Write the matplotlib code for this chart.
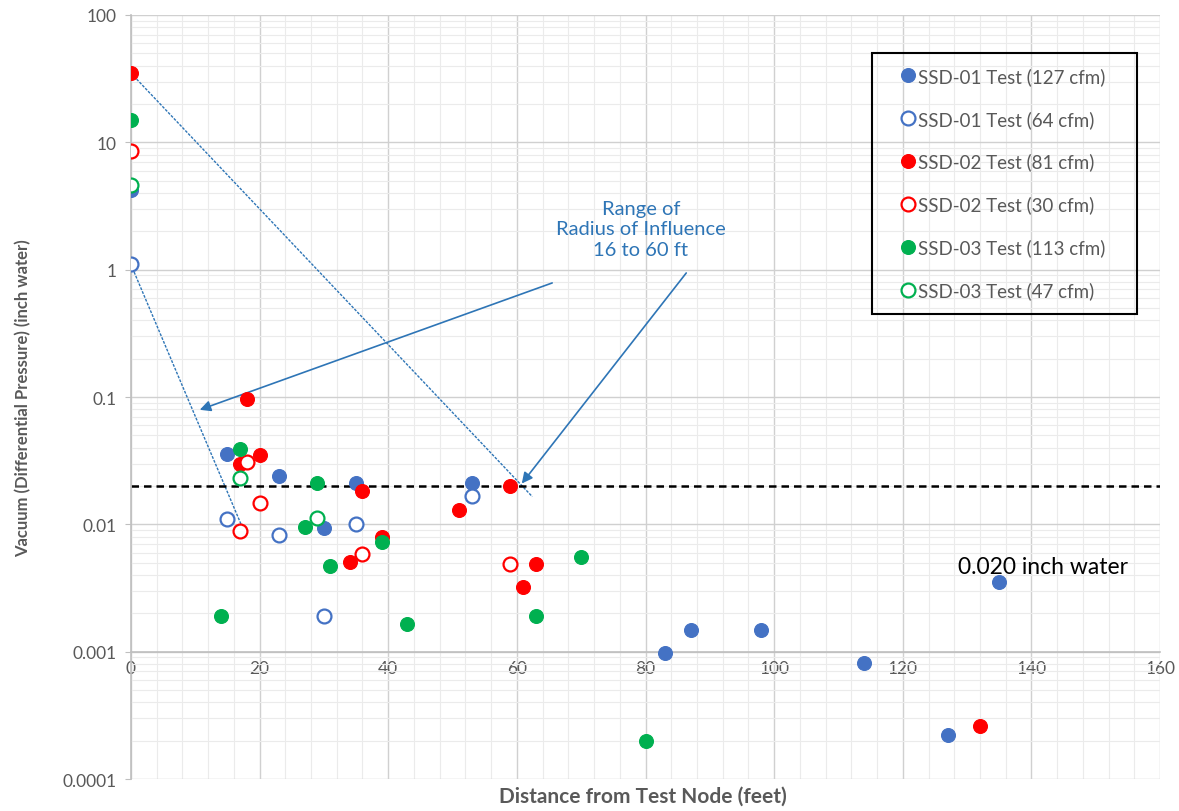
import matplotlib
matplotlib.use("Agg")
import matplotlib.pyplot as plt
from matplotlib import ticker
from matplotlib.patches import Rectangle

plt.rcParams['font.family'] = ['Lato', 'DejaVu Sans']

# measured vacuum (inch water) vs distance from test node (feet)
ssd01_127_x = [0, 15, 23, 30, 35, 53, 83, 87, 98, 114, 127, 135]
ssd01_127_y = [4.2, 0.036, 0.024, 0.0093, 0.021, 0.021, 0.00098, 0.00147, 0.00147, 0.00082, 0.00022, 0.0035]

ssd01_64_x = [0, 15, 23, 30, 35, 53]
ssd01_64_y = [1.1, 0.011, 0.0082, 0.0019, 0.0101, 0.0168]

ssd02_81_x = [0, 18, 17, 20, 36, 39, 34, 51, 59, 63, 61, 132]
ssd02_81_y = [35, 0.097, 0.030, 0.035, 0.0184, 0.0080, 0.0051, 0.013, 0.020, 0.0049, 0.0032, 0.00026]

ssd02_30_x = [0, 18, 20, 17, 36, 59]
ssd02_30_y = [8.5, 0.031, 0.0148, 0.0088, 0.0058, 0.0049]

ssd03_113_x = [0, 17, 29, 27, 31, 39, 14, 43, 63, 70, 80]
ssd03_113_y = [15, 0.039, 0.021, 0.0095, 0.0047, 0.0073, 0.0019, 0.00166, 0.0019, 0.0055, 0.0002]

ssd03_47_x = [0, 17, 29]
ssd03_47_y = [4.6, 0.0232, 0.0113]

threshold = 0.020

# guide lines bounding the radius of influence
guide_lines = [((0, 35), (62.4, 0.0165)),
               ((0, 1.1), (17.6, 0.0088))]

blue = '#4472C4'
red = '#FF0000'
green = '#00B050'
note_col = '#2E75B6'
grey_txt = '#595959'

fig = plt.figure(figsize=(11.79, 8.12), dpi=100)
ax = fig.add_axes([0.111, 0.0394, 0.873, 0.9409])

ax.set_yscale('log')
ax.set_xlim(0, 160)
ax.set_ylim(0.0001, 100)

for (x0, y0), (x1, y1) in guide_lines:
    ax.plot([x0, x1], [y0, y1], color=note_col, lw=1.0, ls=(0, (2, 1)), zorder=2)

ax.axhline(threshold, color='black', lw=1.8, ls=(0, (3, 2)), zorder=2)

series = [
    (ssd01_127_x, ssd01_127_y, blue, True, 'SSD-01 Test (127 cfm)'),
    (ssd01_64_x, ssd01_64_y, blue, False, 'SSD-01 Test (64 cfm)'),
    (ssd02_81_x, ssd02_81_y, red, True, 'SSD-02 Test (81 cfm)'),
    (ssd02_30_x, ssd02_30_y, red, False, 'SSD-02 Test (30 cfm)'),
    (ssd03_113_x, ssd03_113_y, green, True, 'SSD-03 Test (113 cfm)'),
    (ssd03_47_x, ssd03_47_y, green, False, 'SSD-03 Test (47 cfm)'),
]
for xs, ys, col, filled, lab in series:
    ax.plot(xs, ys, ls='none', marker='o', ms=10,
            mfc=col if filled else 'white', mec=col, mew=1.6 if not filled else 0.8,
            label=lab, zorder=4)

# annotation arrows and text
ax.annotate('', xy=(10.3, 0.078), xytext=(65.9, 0.80),
            arrowprops=dict(arrowstyle='-|>', color=note_col, lw=1.2, mutation_scale=16))
ax.annotate('', xy=(60.5, 0.0201), xytext=(86.6, 0.98),
            arrowprops=dict(arrowstyle='-|>', color=note_col, lw=1.2, mutation_scale=16))
ax.text(79.3, 2.09, 'Range of\nRadius of Influence\n16 to 60 ft', color=note_col,
        fontsize=14.5, ha='center', va='center', multialignment='center', linespacing=1.25)
ax.text(128.6, 0.0047, '0.020 inch water', color='black', fontsize=16.5, ha='left', va='center')

# gridlines
ax.xaxis.set_major_locator(ticker.MultipleLocator(20))
ax.xaxis.set_minor_locator(ticker.MultipleLocator(4))
ax.yaxis.set_major_locator(ticker.LogLocator(base=10, numticks=10))
ax.yaxis.set_minor_locator(ticker.LogLocator(base=10, subs=range(2, 10), numticks=20))
ax.yaxis.set_major_formatter(ticker.FuncFormatter(lambda v, _: f'{v:g}'))
ax.yaxis.set_minor_formatter(ticker.NullFormatter())
ax.grid(which='major', color='#D0D0D0', lw=1.0, zorder=0)
ax.grid(which='minor', color='#EBEBEB', lw=0.8, zorder=0)
ax.set_axisbelow(True)

# x axis crosses at 0.001 like the spreadsheet original
ax.spines['bottom'].set_position(('data', 0.001))
for s in ['top', 'right']:
    ax.spines[s].set_visible(False)
for s in ['bottom', 'left']:
    ax.spines[s].set_color('#BFBFBF')
    ax.spines[s].set_linewidth(1.2)

ax.tick_params(axis='x', which='both', length=0, pad=6, labelsize=12.5, labelcolor=grey_txt)
ax.tick_params(axis='y', which='major', length=4, color='#BFBFBF', pad=6, labelsize=12.5, labelcolor=grey_txt)
ax.tick_params(axis='y', which='minor', length=0)

fig.text(0.545, 0.012, 'Distance from Test Node (feet)', ha='center', va='baseline',
         fontsize=15, fontweight='bold', color=grey_txt)
fig.text(0.0195, 0.510, 'Vacuum (Differential Pressure) (inch water)', ha='center', va='center',
         rotation=90, fontsize=12, fontweight='bold', color=grey_txt)

# legend in a plain black box
leg = ax.legend(loc='upper left', bbox_to_anchor=(0.7496, 0.932), fontsize=13.5,
                labelspacing=1.33, borderpad=0, handlelength=0.6, handletextpad=0.25,
                borderaxespad=0, frameon=False)
for t in leg.get_texts():
    t.set_color(grey_txt)
ax.add_patch(Rectangle((0.720, 0.609), 0.258, 0.341, transform=ax.transAxes,
                       fill=False, edgecolor='black', lw=1.5, zorder=5, clip_on=False))

fig.savefig('out.png', dpi=100, facecolor='white')
